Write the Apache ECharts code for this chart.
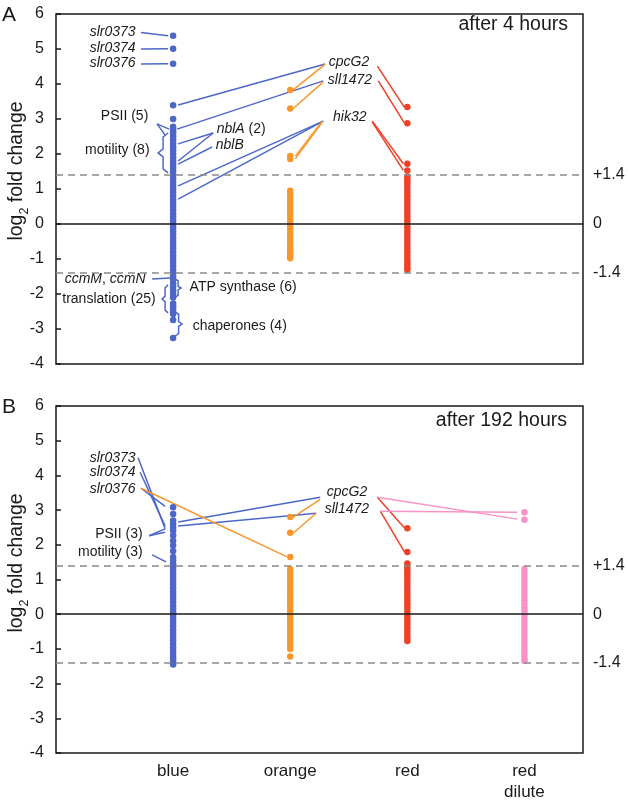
<!DOCTYPE html>
<html>
<head>
<meta charset="utf-8">
<script src="https://cdn.jsdelivr.net/npm/echarts@6/dist/echarts.min.js"></script>
<style>
html, body { margin: 0; padding: 0; background: #fff; }
#chart { width: 628px; height: 803px; }
</style>
</head>
<body>
<div id="chart"></div>
<script>
var FONT = "'Liberation Sans', Arial, Helvetica, sans-serif";
var INK = '#1a1a1a';

var groups = ['blue', 'orange', 'red', 'red\ndilute'];
var groupColors = ['#4c67c9', '#f8962e', '#ef4126', '#f892c7'];
var cutoff = 1.4;

// panel A: after 4 hours (log2 fold change of each gene)
var blueA = [5.38, 5.01, 4.58, 3.39, 3.0, 2.78, 2.72, 2.65, 2.58, 2.5,
    2.4, 2.3, 2.2, 2.1, 2.0, 1.9, 1.8, 1.7, 1.6, 1.5, 1.4, 1.3, 1.2, 1.1, 1.0,
    0.9, 0.8, 0.7, 0.6, 0.5, 0.4, 0.3, 0.2, 0.1, 0, -0.1, -0.2, -0.3, -0.4, -0.5,
    -0.6, -0.7, -0.8, -0.9, -1.0, -1.1, -1.2, -1.3, -1.4, -1.5, -1.6, -1.7, -1.8,
    -1.9, -2.0, -2.1, -2.27, -2.35, -2.42, -2.5, -2.57, -2.74, -3.26];
var orangeA = [3.83, 3.3, 1.94, 1.86, 0.95, 0.85, 0.75, 0.65, 0.55, 0.45, 0.35,
    0.25, 0.15, 0.05, -0.05, -0.15, -0.25, -0.35, -0.45, -0.55, -0.65, -0.72,
    -0.8, -0.87, -0.93, -0.98];
var redA = [3.34, 2.88, 1.72, 1.53, 1.36, 1.27, 1.19, 1.1, 1.0, 0.9, 0.8, 0.7,
    0.6, 0.5, 0.4, 0.3, 0.2, 0.1, 0, -0.1, -0.2, -0.3, -0.4, -0.5, -0.6, -0.7,
    -0.8, -0.9, -1.0, -1.08, -1.16, -1.24, -1.31];

// panel B: after 192 hours
var blueB = [3.08, 2.89, 2.7, 2.6, 2.5, 2.41, 2.27, 2.12, 1.98, 1.82, 1.65, 1.55,
    1.45, 1.35, 1.25, 1.15, 1.05, 0.95, 0.85, 0.75, 0.65, 0.55, 0.45, 0.35, 0.25,
    0.15, 0.05, -0.05, -0.15, -0.25, -0.35, -0.45, -0.55, -0.65, -0.75, -0.85,
    -0.95, -1.05, -1.15, -1.25, -1.32, -1.4, -1.45];
var orangeB = [2.8, 2.35, 1.65, 1.3, 1.2, 1.1, 1.0, 0.9, 0.8, 0.7, 0.6, 0.5, 0.4,
    0.3, 0.2, 0.1, 0, -0.1, -0.2, -0.3, -0.4, -0.5, -0.6, -0.7, -0.8, -0.9, -1.0,
    -1.22];
var redB = [2.48, 1.79, 1.46, 1.36, 1.27, 1.19, 1.1, 1.0, 0.9, 0.8, 0.7, 0.6, 0.5,
    0.4, 0.3, 0.2, 0.1, 0, -0.1, -0.2, -0.3, -0.4, -0.5, -0.6, -0.7, -0.77];
var pinkB = [2.94, 2.72, 1.3, 1.2, 1.1, 1.0, 0.9, 0.8, 0.7, 0.6, 0.5, 0.4, 0.3,
    0.2, 0.1, 0, -0.1, -0.2, -0.3, -0.4, -0.5, -0.6, -0.7, -0.8, -0.9, -1.0, -1.1,
    -1.2, -1.3, -1.35];

// leader lines, in [group position, log2 value]
var leadBlueA = [
    [[0.726, 5.47], [0.957, 5.38]], [[0.726, 5.0], [0.957, 5.01]], [[0.726, 4.57], [0.957, 4.58]],
    [[1.043, 3.40], [2.299, 4.57]], [[1.034, 2.71], [2.282, 4.09]],
    [[2.282, 2.94], [1.043, 1.09]], [[2.282, 2.94], [1.043, 0.71]],
    [[1.342, 2.6], [1.043, 2.29]], [[1.342, 2.6], [1.043, 1.8]], [[1.333, 2.2], [1.043, 1.71]],
    [[0.863, 2.86], [0.966, 2.71]], [[0.863, 2.86], [0.932, 2.54]],
    [[0.821, -1.57], [0.974, -1.54]]
];
var leadOrangeA = [
    [[2.026, 3.83], [2.299, 4.57]], [[2.026, 3.30], [2.282, 4.06]],
    [[2.274, 2.94], [2.043, 1.94]], [[2.274, 2.91], [2.043, 1.86]]
];
var leadRedA = [
    [[2.744, 4.51], [2.974, 3.34]], [[2.752, 4.09], [2.974, 2.89]],
    [[2.701, 2.94], [2.966, 1.72]], [[2.701, 2.91], [2.966, 1.53]]
];
// braces: [tip x, end x, top, bottom]
var bracesA = [[0.872, 0.957, 2.6, 1.46], [0.906, 0.957, -1.74, -2.54],
    [1.068, 1.017, -1.57, -2.09], [1.077, 1.017, -2.51, -3.2]];

var leadBlueB = [
    [[0.701, 4.51], [0.932, 2.46]], [[0.718, 4.09], [0.932, 2.54]], [[0.726, 3.63], [0.932, 3.11]],
    [[0.795, 2.26], [0.932, 2.46]], [[0.795, 2.26], [0.932, 2.36]],
    [[0.821, 1.71], [0.94, 1.51]],
    [[1.043, 2.66], [2.256, 3.37]], [[1.043, 2.54], [2.222, 2.91]]
];
var leadOrangeB = [
    [[0.726, 3.63], [1.97, 1.66]], [[2.026, 2.8], [2.256, 3.31]], [[2.026, 2.34], [2.222, 2.91]]
];
var leadRedB = [[[2.744, 3.37], [2.974, 2.49]], [[2.769, 2.97], [2.974, 1.8]]];
var leadPinkB = [[[2.744, 3.37], [3.94, 2.74]], [[2.769, 2.97], [3.94, 2.94]]];

// text labels: [text, x, y, align]
var notesA = [
    ['{i|slr0373}', 0.684, 5.47, 'right'], ['{i|slr0374}', 0.684, 5.0, 'right'],
    ['{i|slr0376}', 0.684, 4.57, 'right'], ['PSII (5)', 0.59, 3.06, 'center'],
    ['motility (8)', 0.803, 2.11, 'right'], ['{i|nblA} (2)', 1.376, 2.69, 'left'],
    ['{i|nblB}', 1.368, 2.23, 'left'], ['{i|cpcG2}', 2.333, 4.6, 'left'],
    ['{i|sll1472}', 2.325, 4.11, 'left'], ['{i|hik32}', 2.513, 3.03, 'center'],
    ['{i|ccmM}, {i|ccmN}', 0.769, -1.6, 'right'], ['translation (25)', 0.855, -2.17, 'right'],
    ['ATP synthase (6)', 1.145, -1.83, 'left'], ['chaperones (4)', 1.171, -2.94, 'left']
];
var notesB = [
    ['{i|slr0373}', 0.684, 4.49, 'right'], ['{i|slr0374}', 0.684, 4.07, 'right'],
    ['{i|slr0376}', 0.684, 3.6, 'right'], ['PSII (3)', 0.744, 2.29, 'right'],
    ['motility (3)', 0.744, 1.77, 'right'], ['{i|cpcG2}', 2.316, 3.49, 'left'],
    ['{i|sll1472}', 2.299, 3.0, 'left']
];

function bracePath(b) {
    var tip = b[0], end = b[1], top = b[2], bot = b[3];
    var mid = (top + bot) / 2, xm = (tip + end) / 2, h = (top - bot) * 0.1;
    return [[end, top], [xm, top - h], [xm, mid + h], [tip, mid],
        [xm, mid - h], [xm, bot + h], [end, bot]];
}

function dots(values, gi, panel) {
    return {
        type: 'scatter', xAxisIndex: panel, yAxisIndex: panel, z: 3,
        symbolSize: 6.5, silent: true,
        itemStyle: { color: groupColors[gi], opacity: 1 },
        data: values.map(function (v) { return [gi + 1, v]; })
    };
}

function leaders(list, color, panel) {
    return {
        type: 'lines', coordinateSystem: 'cartesian2d', xAxisIndex: panel, yAxisIndex: panel,
        polyline: true, silent: true, z: 2,
        lineStyle: { color: color, width: 1.5, opacity: 1 },
        data: list.map(function (c) { return { coords: c }; })
    };
}

function notes(list, panel) {
    return {
        type: 'scatter', xAxisIndex: panel, yAxisIndex: panel, z: 4, silent: true,
        symbolSize: 1, itemStyle: { color: 'rgba(0,0,0,0)', opacity: 1 },
        data: list.map(function (n) {
            return {
                value: [n[1], n[2]],
                label: {
                    show: true, position: [0, 0], formatter: n[0], align: n[3],
                    verticalAlign: 'middle', fontSize: 14, color: INK, fontFamily: FONT, opacity: 1,
                    rich: { i: { fontStyle: 'italic', fontSize: 14, color: INK, fontFamily: FONT } }
                }
            };
        })
    };
}

function refLines(panel) {
    var dash = { color: '#8a8a8a', width: 1.5, type: [7, 5] };
    return {
        type: 'scatter', xAxisIndex: panel, yAxisIndex: panel, z: 1, silent: true,
        symbolSize: 0, data: [[0, 0]],
        markLine: {
            silent: true, symbol: ['none', 'none'], animation: false,
            label: { position: 'end', distance: 10, fontSize: 16, color: INK, fontFamily: FONT },
            data: [
                { yAxis: cutoff, lineStyle: dash, label: { formatter: '+' + cutoff } },
                { yAxis: 0, lineStyle: { color: INK, width: 1.5, type: 'solid' }, label: { formatter: '0' } },
                { yAxis: -cutoff, lineStyle: dash, label: { formatter: '-' + cutoff } }
            ]
        }
    };
}

var series = [refLines(0), refLines(1)];
series.push(leaders(leadBlueA, groupColors[0], 0), leaders(leadOrangeA, groupColors[1], 0),
    leaders(leadRedA, groupColors[2], 0), leaders(bracesA.map(bracePath), groupColors[0], 0));
series.push(leaders(leadBlueB, groupColors[0], 1), leaders(leadOrangeB, groupColors[1], 1),
    leaders(leadRedB, groupColors[2], 1), leaders(leadPinkB, groupColors[3], 1));
series.push(dots(blueA, 0, 0), dots(orangeA, 1, 0), dots(redA, 2, 0));
series.push(dots(blueB, 0, 1), dots(orangeB, 1, 1), dots(redB, 2, 1), dots(pinkB, 3, 1));
series.push(notes(notesA, 0), notes(notesB, 1));

function xAx(i, labels) {
    return {
        type: 'value', gridIndex: i, min: 0, max: 4.5, interval: 1,
        axisLine: { show: false }, axisTick: { show: false }, splitLine: { show: false },
        axisLabel: {
            show: labels, showMaxLabel: false, margin: 8, fontSize: 17, lineHeight: 21,
            color: INK, fontFamily: FONT,
            formatter: function (v) { return groups[v - 1] || ''; }
        }
    };
}
function yAx(i) {
    return {
        type: 'value', gridIndex: i, min: -4, max: 6, interval: 1,
        axisLine: { show: false }, splitLine: { show: false },
        axisTick: { show: true, inside: true, length: 5, lineStyle: { color: INK, width: 1.5 } },
        axisLabel: { margin: 12, fontSize: 16, color: INK, fontFamily: FONT }
    };
}

function yName(cy) {
    return {
        type: 'text', x: 17, y: cy, rotation: Math.PI / 2,
        style: {
            text: '{a|log}{s|2}{a| fold change}', align: 'center', verticalAlign: 'middle',
            rich: {
                a: { fontSize: 19.5, lineHeight: 28, fontFamily: FONT, fill: INK, verticalAlign: 'middle' },
                s: { fontSize: 12.5, lineHeight: 13, fontFamily: FONT, fill: INK, verticalAlign: 'bottom' }
            }
        }
    };
}
function txt(s, x, y, size, align) {
    return {
        type: 'text', x: x, y: y,
        style: { text: s, fontSize: size, fontFamily: FONT, fill: INK, align: align, verticalAlign: 'middle' }
    };
}

var chart = echarts.init(document.getElementById('chart'), null, { renderer: 'canvas' });
chart.setOption({
    animation: false,
    backgroundColor: '#fff',
    textStyle: { fontFamily: FONT },
    grid: [
        { left: 56, top: 14, width: 527, height: 350, show: true, borderColor: INK, borderWidth: 1.5 },
        { left: 56, top: 406, width: 527, height: 350, show: true, borderColor: INK, borderWidth: 1.5 }
    ],
    xAxis: [xAx(0, false), xAx(1, true)],
    yAxis: [yAx(0), yAx(1)],
    graphic: [
        txt('A', 2, 15, 21, 'left'), txt('B', 2, 407, 21, 'left'),
        txt('after 4 hours', 568, 25, 19.5, 'right'), txt('after 192 hours', 567, 421, 19.5, 'right'),
        yName(171), yName(563)
    ],
    series: series
});
</script>
</body>
</html>
